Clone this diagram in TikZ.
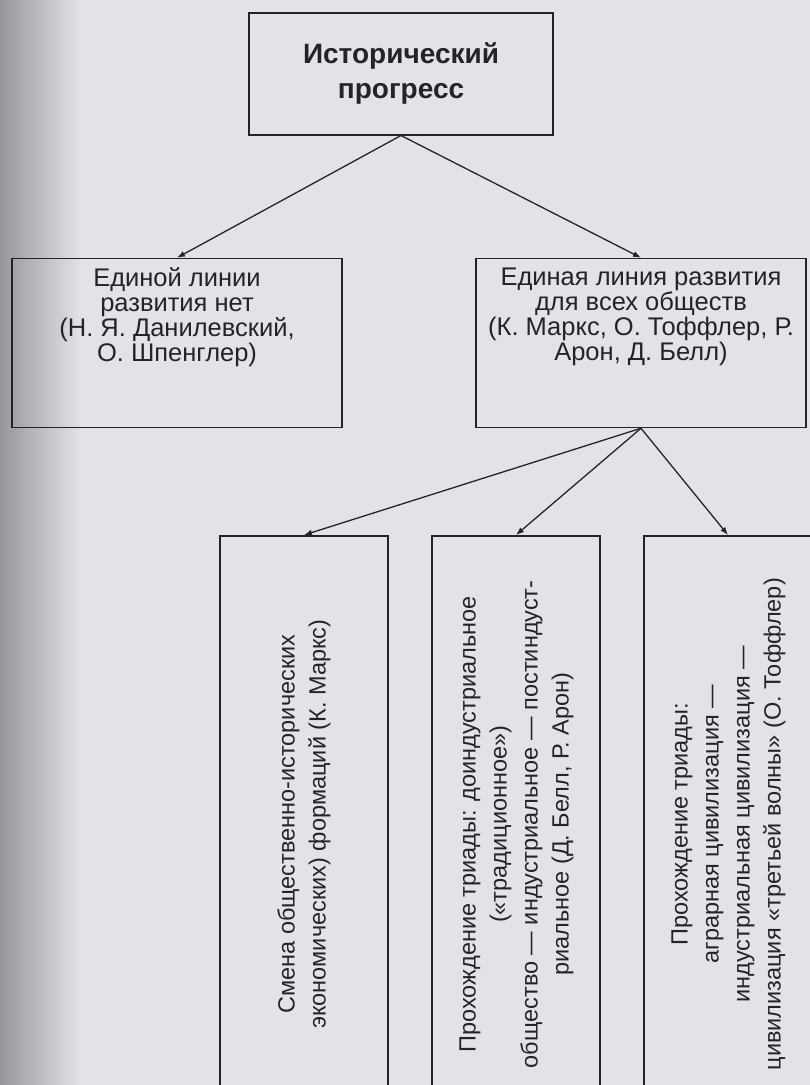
\documentclass[tikz,border=0pt]{standalone}
\usepackage{fontspec}
\setmainfont{Liberation Sans}
\usepackage{graphicx}
\usetikzlibrary{arrows.meta,trees}

\definecolor{paper}{RGB}{226,226,232}
\definecolor{paperedge}{RGB}{150,150,156}
\definecolor{ink}{RGB}{36,36,40}

\begin{document}
\begin{tikzpicture}[
  x=1pt, y=-1pt,
  level 1/.style={grow via three points={one child at (0,184)
    and two children at (-224,184) and (240,184)}},
  level 2/.style={grow via three points={one child at (-125,192)
    and two children at (-231,192) and (-19,192)}},
  parent anchor=south, child anchor=north,
  edge from parent/.style={draw=ink, ->, >={Latex[length=8pt,width=6pt]}, line width=1.3pt},
  topbox/.style={draw=ink, line width=1.5pt, anchor=north, text=ink,
    minimum width=304pt, minimum height=122pt, align=center,
    font=\bfseries\fontsize{28}{35}\selectfont},
  linebox/.style={draw=ink, line width=1.5pt, anchor=north, text=ink,
    minimum width=330pt, minimum height=169pt, inner sep=0pt,
    font=\fontsize{25.5}{25}\selectfont},
  stagebox/.style={draw=ink, line width=1.5pt, anchor=north, text=ink,
    minimum width=168pt, minimum height=577pt, inner sep=0pt,
    font=\fontsize{23.5}{31}\selectfont}
]
  \useasboundingbox (0,0) rectangle (810,1085);
  \fill[paper] (0,0) rectangle (810,1085);
  \fill[left color=paperedge, right color=paper] (0,0) rectangle (80,1085);

  \begin{scope}[shift={(401,12)}]
  \node[topbox] (progress) {Исторический\\прогресс}
    child {
      node[linebox] (noline) {\parbox[c][150pt][t]{324pt}{\centering
        Единой линии\\ развития нет\\ (Н.~Я.~Данилевский,\\ О.~Шпенглер)}}
    }
    child {
      node[linebox] (oneline) {\parbox[c][150pt][t]{324pt}{\centering
        Единая линия развития\\ для всех обществ\\ (К.~Маркс, О.~Тоффлер, Р.\\ Арон, Д.~Белл)}}
      child {
        node[stagebox] (formations) {\rotatebox{90}{\begin{tabular}{@{}c@{}}
          Смена общественно-исторических\\
          экономических) формаций (К.~Маркс)\end{tabular}}}
      }
      child {
        node[stagebox] (triadbell) {\rotatebox{90}{\begin{tabular}{@{}c@{}}
          Прохождение триады: доиндустриальное\\
          («традиционное»)\\
          общество — индустриальное — постиндуст-\\
          риальное (Д.~Белл, Р.~Арон)\end{tabular}}}
      }
      child {
        node[stagebox] (triadtoffler) {\rotatebox{90}{\begin{tabular}{@{}c@{}}
          Прохождение триады:\\
          аграрная цивилизация —\\
          индустриальная цивилизация —\\
          цивилизация «третьей волны» (О.~Тоффлер)\end{tabular}}}
      }
    };
  \end{scope}
\end{tikzpicture}
\end{document}
